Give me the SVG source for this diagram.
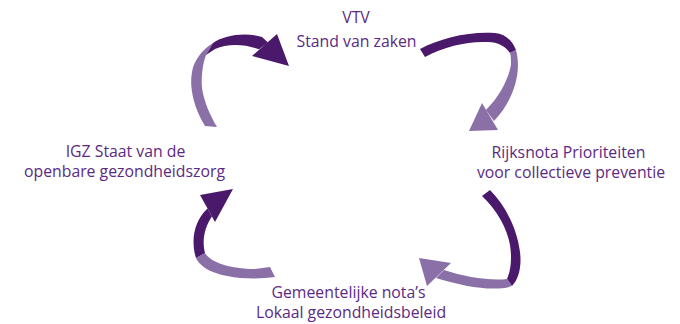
<svg xmlns="http://www.w3.org/2000/svg" width="680" height="324" viewBox="0 0 680 324">
<style>
.t{font-family:"Open Sans","Noto Sans","Liberation Sans",sans-serif;font-size:15.8px;fill:#5b2a84;text-anchor:middle}
.d{fill:#4b196c}
.l{fill:#8b70a8}
</style>
<rect width="680" height="324" fill="#ffffff"/>
<g id="vtv"><text class="t" x="356" y="23">VTV</text><text class="t" x="356.5" y="47">Stand van zaken</text></g>
<g id="rijksnota"><text class="t" x="568.5" y="158">Rijksnota Prioriteiten</text><text class="t" x="571" y="178">voor collectieve preventie</text></g>
<g id="igz"><text class="t" x="125.5" y="157">IGZ Staat van de</text><text class="t" x="124.5" y="177">openbare gezondheidszorg</text></g>
<g id="gemeente"><text class="t" x="348.5" y="298">Gemeentelijke nota’s</text><text class="t" x="351" y="318">Lokaal gezondheidsbeleid</text></g>
<g id="connectors">
<g id="arrow1">
<path class="l" d="M205,126 C194,108 189,88 192,72 C194,60 202,50 213,43 L206,55 C203,63 201,75 202,88 C204,102 210,115 217,127 Z"/>
<path class="d" d="M213,43 C225,35 245,32 262,37 L268,42.5 L259,49.3 C245,44 228,43 215,49 L206,55 Z"/>
<polygon class="d" points="277,34 289,66 252,56"/>
</g>
<g id="arrow2">
<path class="d" d="M420,49 C440,38 470,31 495,33 C505,34 512,40 516,50 L510,53 C505,46 498,42 488,42 C468,41 445,46 425,57 Z"/>
<path class="l" d="M516,50 C522,72 514,100 494,121 L486,110 C500,96 508,80 511,65 C511,60 511,56 510,53 Z"/>
<polygon class="l" points="482,103 498,130 469,131"/>
</g>
<g id="arrow3">
<path class="d" d="M490,190 C505,205 517,228 520,252 C522,268 518,280 512,286 L507,279 C511,270 512,258 510,245 C507,228 497,210 482,196 Z"/>
<path class="l" d="M512,286 C495,292 465,287 436,278 L444,270 C465,277 490,281 507,279 Z"/>
<polygon class="l" points="419,258 451,263 427,286"/>
</g>
<g id="arrow4">
<path class="l" d="M275,277 C255,280 222,279 205,268 C200,264 197,261 196,258 L205,253 C210,262 230,269 255,269 L270,267 Z"/>
<path class="d" d="M196,258 C191,242 193,222 207.5,208.5 L212,216.6 C204,228 202,242 205,253 Z"/>
<polygon class="d" points="200,195 233,189 215,222"/>
</g>
</g>
</svg>
